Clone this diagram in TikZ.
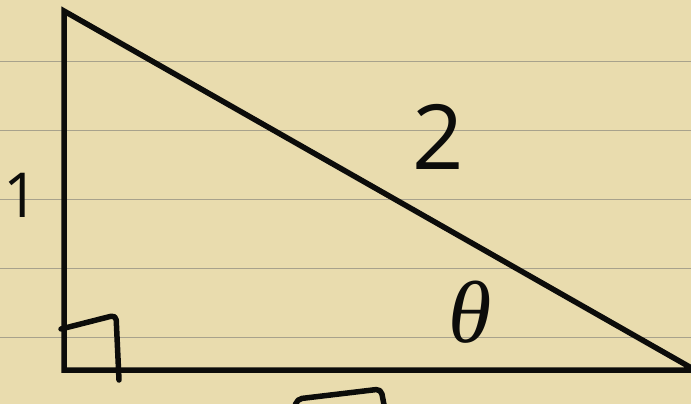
\documentclass[tikz,border=0pt]{standalone}
\usepackage{fontspec}
\newfontfamily\hand{Open Sans}
\newfontfamily\greekhand{Liberation Serif}
\definecolor{paper}{RGB}{233,220,174}
\definecolor{ruleline}{RGB}{168,162,140}
\definecolor{inkc}{RGB}{12,12,10}
\begin{document}
\begin{tikzpicture}[x=1pt,y=-1pt,
  ink/.style={line width=5.5pt, line cap=round, line join=round, draw=inkc},
  label/.style={text=inkc, inner sep=0pt}]
\useasboundingbox (0,0) rectangle (691,404);
\fill[paper] (0,0) rectangle (691,404);
\foreach \y in {62,130,199,268,337} \draw[ruleline, line width=1pt] (0,\y) -- (691,\y);
\begin{scope}
\clip (0,0) rectangle (691,404);
\coordinate (A) at (64,11);
\coordinate (B) at (64,370);
\coordinate (C) at (695,370);
\draw[ink, line join=miter] (A) -- (B) -- (C) -- cycle;
% right angle mark
\draw[ink, rounded corners=5pt] (61,329) -- (116,315) -- (119,380);
% fragment of the bottom label
\draw[ink, rounded corners=5pt] (294,410) -- (297,399) -- (381,389) -- (385,410);
\end{scope}
\node[label, font=\hand\fontsize{62}{62}\selectfont] (one) at (21,195) {1};
\node[label, font=\hand\fontsize{90}{90}\selectfont] (two) at (438,137) {2};
\node[label, font=\greekhand\itshape\fontsize{88}{88}\selectfont] (theta) at (470,312) {θ};
\end{tikzpicture}
\end{document}
